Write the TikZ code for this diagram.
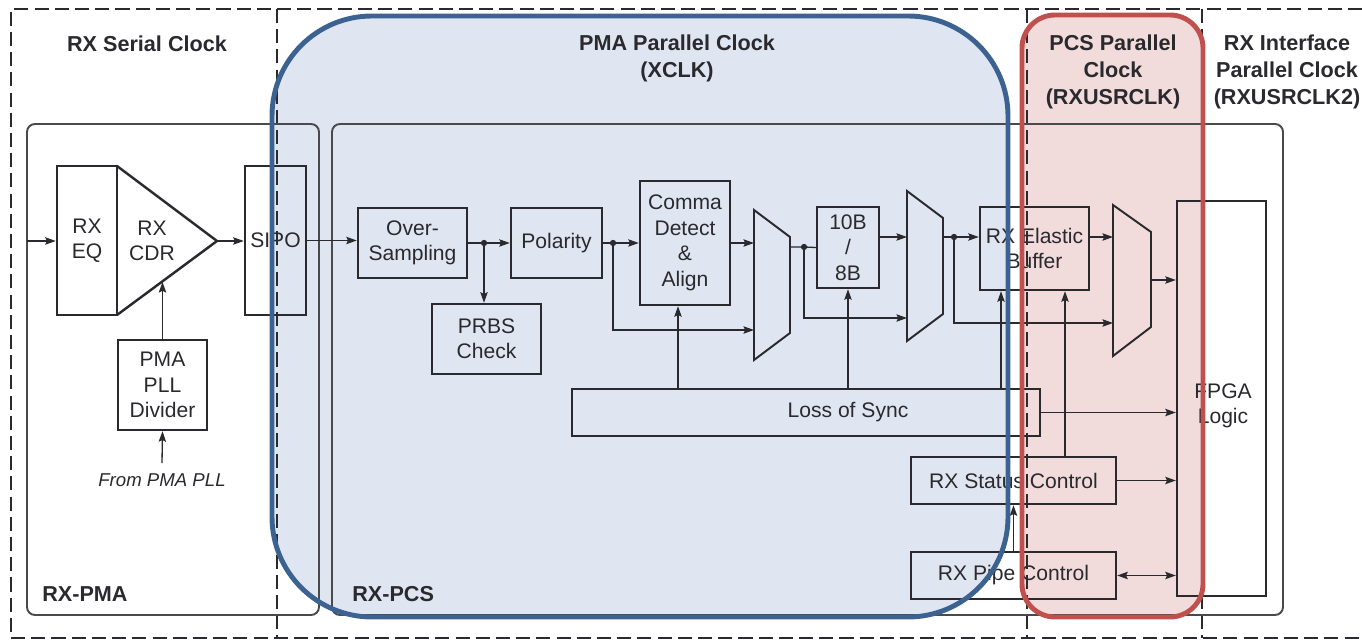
\documentclass[tikz,border=0pt]{standalone}
\usepackage{fontspec}
\setmainfont{Liberation Sans}
\usetikzlibrary{arrows.meta}
\definecolor{pmablue}{HTML}{3B6291}
\definecolor{pmafill}{HTML}{DFE6F1}
\definecolor{pcsred}{HTML}{C0504D}
\definecolor{pcsfill}{HTML}{F2DCDB}
\definecolor{ink}{HTML}{2A2A2E}

\tikzset{
  blk/.style={draw=ink, line width=1.4pt, inner sep=0pt, align=center, text=ink,
    font=\fontsize{12}{14.5}\selectfont},
  lbl/.style={inner sep=0pt, align=center, text=ink, font=\fontsize{12}{14.5}\selectfont},
  mux/.style={draw=ink, line width=1.1pt, line join=miter},
  conn/.style={draw=ink, line width=0.75pt},
  clktitle/.style={align=center, text=ink, font=\fontsize{12.3}{15.3}\selectfont\bfseries},
  pmabox/.style={draw=ink!85, line width=1.1pt, rounded corners=0.16cm},
  clk/.style={draw=ink, line width=0.8pt, dash pattern=on 8pt off 3.5pt}
}

\begin{document}
\begin{tikzpicture}[x=0.02cm, y=-0.02cm, >={Stealth[length=6pt,width=4.2pt,inset=1pt]}]
\useasboundingbox (0,0) rectangle (1362,641);

% clock domain fills
\fill[pmafill, rounded corners=2cm] (272,16) rectangle (1008,617);
\fill[pcsfill, rounded corners=0.66cm] (1022,15) rectangle (1203,617);

% clock domain borders
\draw[clk] (1362,9) -- (11,9) -- (11,638) -- (1362,638);
\foreach \xd in {277,1027,1202}
  \draw[clk] (\xd,9) -- (\xd,638);

\node[clktitle] (tser) at (147,44) {RX Serial Clock};
\node[clktitle] (tpma) at (677,58) {PMA Parallel Clock\\(XCLK)};
\node[clktitle] (tpcs) at (1113,72) {PCS Parallel\\Clock\\(RXUSRCLK)};
\node[clktitle] (tif) at (1287,72) {RX Interface\\Parallel Clock\\(RXUSRCLK2)};

% RX-PMA and RX-PCS
\draw[pmabox] (27,124) rectangle (319,615);
\draw[pmabox] (332,124) rectangle (1283,615);
\node[clktitle, anchor=west, inner sep=0pt] (lpma) at (42,594) {RX-PMA};
\node[clktitle, anchor=west, inner sep=0pt] (lpcs) at (352,594) {RX-PCS};

% PMA side
\node[blk, minimum width=1.2cm, minimum height=2.98cm] (eq) at (87,240.5) {RX\\EQ};
\draw[mux, line width=1.4pt] (117,166) -- (217,241) -- (117,315);
\node[lbl] (cdr) at (152,241) {RX\\CDR};
\node[blk, minimum width=1.22cm, minimum height=2.98cm] (sipo) at (275.5,240.5) {SIPO};
\node[blk, minimum width=1.78cm, minimum height=1.8cm] (div) at (162.5,385) {PMA\\PLL\\Divider};
\node[lbl, font=\fontsize{10.6}{12}\selectfont\itshape] (pll) at (162,480) {From PMA PLL};
\coordinate (pmain) at (27,241);
\coordinate (cdrout) at (217,241);
\coordinate (cdrlow) at (162,282);

% PCS side
\node[blk, minimum width=2.18cm, minimum height=1.4cm] (ovs) at (412.5,243) {Over-\\Sampling};
\node[blk, minimum width=2.18cm, minimum height=1.4cm] (prbs) at (486.5,339) {PRBS\\Check};
\node[blk, minimum width=1.82cm, minimum height=1.4cm] (pol) at (556.5,243) {Polarity};
\node[blk, minimum width=1.8cm, minimum height=2.48cm] (comma) at (685,243) {Comma\\Detect\\\&\\Align};
\node[blk, minimum width=1.24cm, minimum height=1.62cm] (t8) at (848,247.5) {10B\\/\\8B};
\node[blk, minimum width=2.18cm, minimum height=1.66cm] (eb) at (1034.5,248.5) {RX Elastic\\Buffer};
\node[blk, minimum width=1.78cm, minimum height=7.9cm] (fpga) at (1221.5,398.5) {};
\node[lbl] (fpgat) at (1223,406) {FPGA\\Logic};
\node[blk, minimum width=9.36cm, minimum height=0.94cm] (los) at (806,412.5) {\hspace*{1.68cm}Loss of Sync};
\node[blk, minimum width=4.1cm, minimum height=0.94cm] (st) at (1013.5,480.5) {RX Status Control};
\node[blk, minimum width=4.1cm, minimum height=0.94cm] (pipe) at (1013.5,575.5) {RX Pipe Control};

% muxes
\draw[mux] (754,210) -- (790,237) -- (790,333) -- (754,360) -- cycle;
\draw[mux] (907,191) -- (943,218) -- (943,314) -- (907,341) -- cycle;
\draw[mux] (1113,205) -- (1151,232) -- (1151,327) -- (1113,356) -- cycle;
\coordinate (m1a) at (754,243);
\coordinate (m1b) at (754,330);
\coordinate (m1o) at (790,247);
\coordinate (m2a) at (907,237);
\coordinate (m2b) at (907,318);
\coordinate (m2o) at (943,237);
\coordinate (m3a) at (1113,237);
\coordinate (m3b) at (1113,323);
\coordinate (m3o) at (1151,280);
\coordinate (d1) at (484,243);
\coordinate (d2) at (613,243);
\coordinate (d3) at (804,247);
\coordinate (d4) at (954,237);
\coordinate (xa) at (678,0);
\coordinate (xb) at (1001,0);
\coordinate (xc) at (1065,0);

% data path
\draw[conn,->] (pmain) -- (pmain -| eq.west);
\draw[conn,->] (cdrout) -- (cdrout -| sipo.west);
\draw[conn,->] (sipo.east) -- (sipo.east -| ovs.west);
\draw[conn] (ovs.east) -- (d1);
\draw[conn,->] (d1) -- (pol.west);
\draw[conn,->] (d1) -- (d1 |- prbs.north);
\draw[conn] (pol.east) -- (d2);
\draw[conn,->] (d2) -- (comma.west);
\draw[conn,->] (d2) |- (m1b);
\draw[conn,->] (comma.east) -- (m1a);
\draw[conn] (m1o) -- (d3) -- (t8.west);
\draw[conn,->] (d3) |- (m2b);
\draw[conn,->] (m2a -| t8.east) -- (m2a);
\draw[conn] (m2o) -- (d4);
\draw[conn,->] (d4) -- (d4 -| eb.west);
\draw[conn,->] (d4) |- (m3b);
\draw[conn,->] (m3a -| eb.east) -- (m3a);
\draw[conn,->] (m3o) -- (m3o -| fpga.west);
\foreach \dd in {d1,d2,d3,d4}
  \fill[ink] (\dd) circle (1.8pt);

% control path
\draw[conn,->] (los.north -| xa) -- (comma.south -| xa);
\draw[conn,->] (t8.south |- los.north) -- (t8.south);
\draw[conn,->] (los.north -| xb) -- (eb.south -| xb);
\draw[conn,->] (st.north -| xc) -- (eb.south -| xc);
\draw[conn,->] (los.east) -- (los.east -| fpga.west);
\draw[conn,->] (st.east) -- (st.east -| fpga.west);
\draw[conn,<->] (pipe.east) -- (pipe.east -| fpga.west);
\draw[conn,->] (pipe.north) -- (st.south);
\draw[conn,->] (div.north) -- (div.north |- cdrlow);
\draw[conn,->] ([yshift=0.2cm]pll.north) -- (div.south);

% clock domain outlines on top
\draw[pmablue, line width=2.8pt, rounded corners=2cm] (272,16) rectangle (1008,617);
\draw[pcsred, line width=2.8pt, rounded corners=0.66cm] (1022,15) rectangle (1203,617);

\end{tikzpicture}
\end{document}
